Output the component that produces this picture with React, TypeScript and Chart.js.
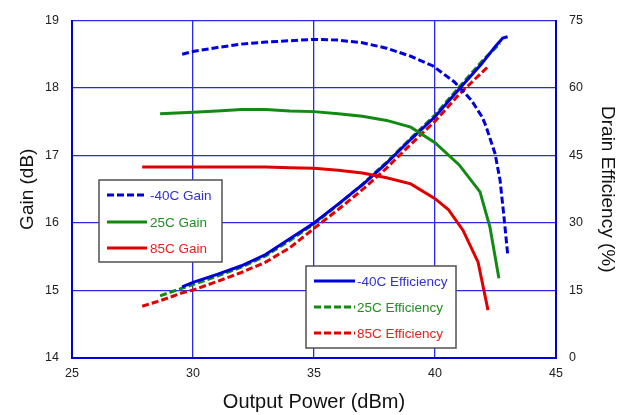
import React, { useEffect, useRef } from "react";
import { Chart, registerables } from "chart.js";

Chart.register(...registerables);

// ---- Data ----
const gainM40Power = [29.55, 30, 31, 32, 33, 34, 35, 36, 37, 38, 39, 39.9, 40.8, 41.5, 41.95, 42.1, 42.48, 42.69, 42.85, 43.0];
const gainM40 = [18.5, 18.54, 18.6, 18.65, 18.68, 18.7, 18.72, 18.71, 18.67, 18.59, 18.47, 18.33, 18.09, 17.82, 17.57, 17.44, 17.03, 16.63, 16.09, 15.55];

const gain25Power = [28.64, 30, 31, 32, 33, 34, 35, 36, 37, 38, 39, 40, 41, 41.86, 42.27, 42.64];
const gain25 = [17.62, 17.64, 17.66, 17.68, 17.68, 17.66, 17.65, 17.62, 17.58, 17.52, 17.42, 17.19, 16.86, 16.46, 15.94, 15.18];

const gain85Power = [27.9, 29, 30, 31, 32, 33, 34, 35, 36, 37, 38, 39, 40, 40.55, 41.16, 41.78, 42.19];
const gain85 = [16.83, 16.83, 16.83, 16.83, 16.83, 16.83, 16.82, 16.81, 16.78, 16.74, 16.67, 16.58, 16.36, 16.2, 15.89, 15.42, 14.71];

const effM40Power = [29.55, 30, 31, 32, 33, 34, 35, 36, 37, 38, 39, 40, 41, 41.9, 42.5, 42.8, 43.0];
const effM40 = [15.8, 16.8, 18.6, 20.5, 23.0, 26.5, 30.0, 34.2, 38.5, 43.3, 48.6, 53.6, 59.8, 65.2, 69.3, 71.1, 71.4];

const eff25Power = [28.64, 29, 29.5, 30, 31, 32, 33, 34, 35, 36, 37, 38, 39, 40, 41, 42, 42.69];
const eff25 = [13.8, 14.5, 15.4, 16.3, 18.2, 20.2, 22.7, 26.1, 29.8, 34.1, 38.6, 43.5, 48.8, 54.0, 60.2, 66.3, 69.9];

const eff85Power = [27.9, 28.5, 29, 29.5, 30, 31, 32, 33, 34, 35, 36, 37, 38, 39, 40, 41, 42.2];
const eff85 = [11.5, 12.5, 13.4, 14.4, 15.1, 17.0, 19.0, 21.3, 24.5, 28.8, 33.0, 37.4, 42.2, 47.5, 52.6, 58.6, 64.8];

const gainTicks = [14, 15, 16, 17, 18, 19];
const effTicks = [0, 15, 30, 45, 60, 75];
const powerTicks = [25, 30, 35, 40, 45];

const gainLegendLabels = ["-40C Gain", "25C Gain", "85C Gain"];
const effLegendLabels = ["-40C Efficiency", "25C Efficiency", "85C Efficiency"];

const xTitle = "Output Power (dBm)";
const yLeftTitle = "Gain (dB)";
const yRightTitle = "Drain Efficiency (%)";

// ---- Styles ----
const BLUE = "#0000d8";
const GREEN = "#138a13";
const RED = "#e00000";
const BLUE_TXT = "#3030d8";
const GREEN_TXT = "#1f8f1f";
const RED_TXT = "#e82020";
const DASH = [7, 3];
const FONT = "'Liberation Sans', Arial, sans-serif";

const pts = (xs: number[], ys: number[]) => xs.map((x, i) => ({ x, y: ys[i] }));

const legendPlugin = {
  id: "boxLegends",
  afterDraw(chart: any) {
    const ctx = chart.ctx as CanvasRenderingContext2D;
    const ds = chart.data.datasets;
    const boxes = [
      { x: 99, y: 180, w: 123, h: 82, rows: [0, 1, 2], lineX: 107, lineLen: 40, textX: 150, rowY: [195, 222, 248] },
      { x: 306, y: 266, w: 150, h: 82, rows: [3, 4, 5], lineX: 314, lineLen: 41, textX: 357, rowY: [281, 307, 333] },
    ];
    const txtColors = [BLUE_TXT, GREEN_TXT, RED_TXT];
    ctx.save();
    for (const b of boxes) {
      ctx.fillStyle = "#ffffff";
      ctx.fillRect(b.x, b.y, b.w, b.h);
      ctx.strokeStyle = "#505050";
      ctx.lineWidth = 1.5;
      ctx.setLineDash([]);
      ctx.strokeRect(b.x, b.y, b.w, b.h);
      b.rows.forEach((di, r) => {
        const d = ds[di];
        const y = b.rowY[r];
        ctx.strokeStyle = d.borderColor;
        ctx.lineWidth = d.borderWidth;
        ctx.setLineDash(d.borderDash || []);
        ctx.beginPath();
        ctx.moveTo(b.lineX, y);
        ctx.lineTo(b.lineX + b.lineLen, y);
        ctx.stroke();
        ctx.setLineDash([]);
        ctx.fillStyle = txtColors[r];
        ctx.font = `13.5px ${FONT}`;
        ctx.textBaseline = "middle";
        ctx.textAlign = "left";
        ctx.fillText(d.label, b.textX, y + 1);
      });
    }
    ctx.restore();
  },
};

export default function App() {
  const ref = useRef<HTMLCanvasElement | null>(null);

  useEffect(() => {
    if (!ref.current) return;
    const mk = (label: string, xs: number[], ys: number[], color: string, axis: string, dash: number[] | null) => ({
      label,
      data: pts(xs, ys),
      borderColor: color,
      backgroundColor: color,
      borderWidth: 3,
      borderDash: dash || [],
      pointRadius: 0,
      tension: 0,
      fill: false,
      yAxisID: axis,
    });
    const chart = new Chart(ref.current, {
      type: "line",
      data: {
        datasets: [
          mk(gainLegendLabels[0], gainM40Power, gainM40, BLUE, "yGain", DASH),
          mk(gainLegendLabels[1], gain25Power, gain25, GREEN, "yGain", null),
          mk(gainLegendLabels[2], gain85Power, gain85, RED, "yGain", null),
          mk(effLegendLabels[0], effM40Power, effM40, BLUE, "yEff", null),
          mk(effLegendLabels[1], eff25Power, eff25, GREEN, "yEff", DASH),
          mk(effLegendLabels[2], eff85Power, eff85, RED, "yEff", DASH),
        ] as any,
      },
      options: {
        animation: false,
        responsive: false,
        layout: { padding: { top: 20, left: 0, right: 0, bottom: 0 } },
        plugins: { legend: { display: false }, tooltip: { enabled: false } },
        scales: {
          x: {
            type: "linear",
            min: 25,
            max: 45,
            afterBuildTicks: (s: any) => { s.ticks = powerTicks.map((v) => ({ value: v })); },
            afterFit: (s: any) => { s.height = 57; },
            grid: { color: "#2a2ae6", lineWidth: 1.3, drawTicks: false },
            border: { display: true, color: BLUE, width: 2 },
            ticks: { color: "#222", font: { family: FONT, size: 12.5 }, padding: 8.5, maxRotation: 0 },
            title: { display: true, text: xTitle, color: "#111", font: { family: FONT, size: 20 }, padding: { top: 0, bottom: 1 } },
          },
          yGain: {
            type: "linear",
            position: "left",
            min: 14,
            max: 19,
            afterBuildTicks: (s: any) => { s.ticks = gainTicks.map((v) => ({ value: v })); },
            afterFit: (s: any) => { s.width = 72; },
            grid: { color: "#2a2ae6", lineWidth: 1.3, drawTicks: false },
            border: { display: true, color: BLUE, width: 2 },
            ticks: { color: "#222", font: { family: FONT, size: 12.5 }, padding: 13 },
            title: { display: true, text: yLeftTitle, color: "#111", font: { family: FONT, size: 19 }, padding: { top: 16.5, bottom: 0 } },
          },
          yEff: {
            type: "linear",
            position: "right",
            min: 0,
            max: 75,
            afterBuildTicks: (s: any) => { s.ticks = effTicks.map((v) => ({ value: v })); },
            afterFit: (s: any) => { s.width = 66; },
            grid: { display: false, drawTicks: false },
            border: { display: true, color: BLUE, width: 2 },
            ticks: { color: "#222", font: { family: FONT, size: 12.5 }, padding: 13 },
            title: { display: true, text: yRightTitle, color: "#111", font: { family: FONT, size: 19 }, padding: { top: 3.5, bottom: 0 } },
          },
        },
      } as any,
      plugins: [legendPlugin],
    });
    return () => chart.destroy();
  }, []);

  return (
    <div style={{ position: "absolute", left: 0, top: 0, width: 622, height: 415, background: "#fff" }}>
      <canvas ref={ref} width={622} height={415} style={{ display: "block" }} />
    </div>
  );
}
